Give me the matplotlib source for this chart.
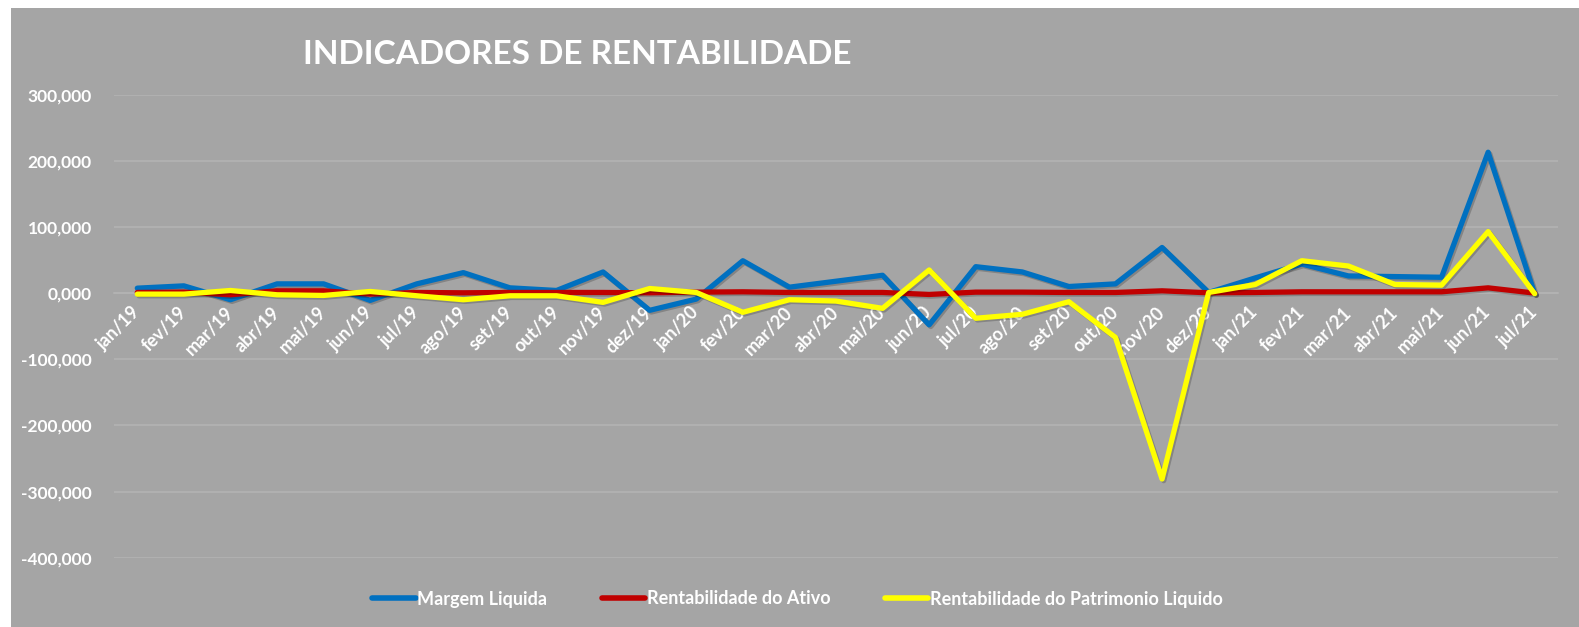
import matplotlib.pyplot as plt
import matplotlib.patheffects as pe
from matplotlib.patches import Rectangle

plt.rcParams['font.family'] = ['Lato', 'DejaVu Sans']

meses = ['jan/19', 'fev/19', 'mar/19', 'abr/19', 'mai/19', 'jun/19', 'jul/19', 'ago/19',
         'set/19', 'out/19', 'nov/19', 'dez/19', 'jan/20', 'fev/20', 'mar/20', 'abr/20',
         'mai/20', 'jun/20', 'jul/20', 'ago/20', 'set/20', 'out/20', 'nov/20', 'dez/20',
         'jan/21', 'fev/21', 'mar/21', 'abr/21', 'mai/21', 'jun/21', 'jul/21']

margem_liquida = [7.5, 11, -10, 14, 14, -11, 14, 31, 8, 4, 32, -26, -9, 49, 9, 18,
                  27, -48, 40, 32, 10, 14, 69, 1, 23, 44, 26, 25, 24, 213, -1]
rent_ativo = [1, 1.5, -2.5, 3.5, 3.5, -1.5, 1, 0.5, 1, 1, 1, 0.5, 1.5, 2, 1, 1,
              1, -2, 1.5, 1.5, 1, 1, 3.5, 0.5, 1, 2, 2, 2, 2, 8, 0]
rent_pl = [-1.5, -1.5, 4, -2.5, -3.5, 2.5, -4, -10, -4, -4, -14, 7, 1, -29, -10, -12,
           -23, 35, -38, -32, -13, -67, -281, 1, 13, 49, 41, 13, 12, 93, -1]

series = [
    ('Margem Liquida', margem_liquida, '#0070C0'),
    ('Rentabilidade do Ativo', rent_ativo, '#C00000'),
    ('Rentabilidade do Patrimonio Liquido', rent_pl, '#FFFF00'),
]

bg = '#A5A5A5'
fig = plt.figure(figsize=(15.79, 6.27), dpi=100)
fig.patch.set_facecolor('white')
fig.patches.append(Rectangle((11 / 1579, 0), 1 - 11 / 1579, 1 - 8 / 627,
                             transform=fig.transFigure, facecolor=bg,
                             edgecolor='none', zorder=-10))

ax = fig.add_axes([114 / 1579, 1 - 557.7 / 627, (1558 - 114) / 1579, (557.7 - 94.7) / 627])
ax.set_facecolor(bg)
ax.patch.set_alpha(0)

x = list(range(len(meses)))
for nome, vals, cor in series:
    ax.plot(x, vals, color=cor, lw=3.8, label=nome, solid_joinstyle='round',
            solid_capstyle='round', zorder=3,
            path_effects=[pe.SimpleLineShadow(offset=(1.2, -1.2), alpha=0.2), pe.Normal()])

ax.set_xlim(-0.5, len(meses) - 0.5)
ax.set_ylim(-400, 300)
yt = list(range(-400, 301, 100))
ax.set_yticks(yt)
ax.set_yticklabels([f'{v:.3f}'.replace('.', ',') for v in yt], color='white',
                   fontsize=12.5, fontweight='bold')
ax.tick_params(axis='y', length=0, pad=16)
ax.grid(axis='y', color='#B3B3B3', lw=1.2, zorder=0)

for s in ['top', 'right', 'left']:
    ax.spines[s].set_visible(False)
ax.spines['bottom'].set_position(('data', 0))
ax.spines['bottom'].set_color('#B3B3B3')
ax.spines['bottom'].set_linewidth(1.2)
ax.set_xticks(x)
ax.set_xticklabels(meses, rotation=45, ha='right', va='center', rotation_mode='anchor',
                   color='white', fontsize=13, fontweight='bold')
ax.tick_params(axis='x', length=0, pad=12)

fig.text(577 / 1579, 1 - 54 / 627, 'INDICADORES DE RENTABILIDADE', color='white',
         fontsize=24, fontweight='bold', ha='center', va='center')

leg = fig.legend(loc='center', bbox_to_anchor=(0.505, 1 - 599 / 627), ncol=3,
                 frameon=False, handlelength=2.4, handletextpad=0.1, columnspacing=3.0,
                 prop={'weight': 'bold', 'size': 13})
for t in leg.get_texts():
    t.set_color('white')
for h in leg.get_lines():
    h.set_linewidth(4)
    h.set_path_effects([])

fig.savefig('out.png', dpi=100)
